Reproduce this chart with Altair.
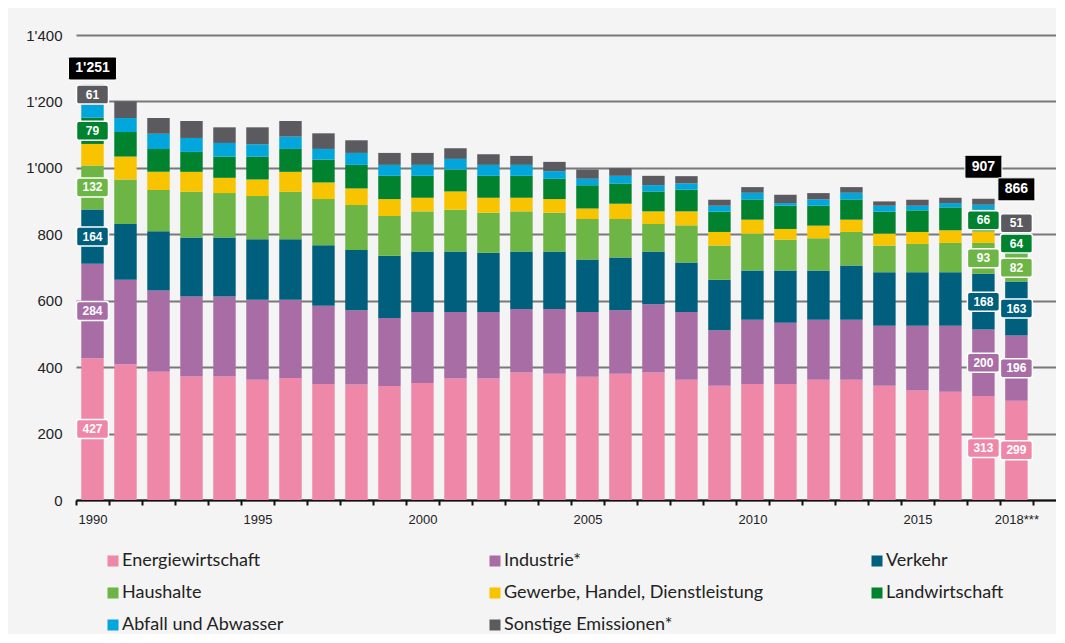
import altair as alt
import pandas as pd

# ---------------- data ----------------
YEARS = [str(y) for y in range(1990, 2019)]

CATEGORIES = [
    "Energiewirtschaft",
    "Industrie*",
    "Verkehr",
    "Haushalte",
    "Gewerbe, Handel, Dienstleistung",
    "Landwirtschaft",
    "Abfall und Abwasser",
    "Sonstige Emissionen*",
]
COLORS = ["#ef87a8", "#a96da6", "#005f7d", "#6db545", "#f8c400", "#00822f", "#00a6dc", "#5b5a5f"]

energie = [427, 409, 386, 372, 372, 362, 367, 349, 348, 343, 352, 366, 366, 384, 380, 371, 380, 384, 362, 344,
           349, 349, 362, 362, 344, 330, 326, 313, 299]
industrie = [284, 254, 245, 241, 241, 241, 236, 236, 223, 205, 214, 200, 200, 191, 195, 195, 191, 205, 204, 167,
             194, 185, 181, 181, 181, 195, 199, 200, 196]
verkehr = [164, 168, 178, 177, 177, 182, 182, 182, 182, 187, 182, 182, 178, 173, 173, 158, 159, 159, 149, 152,
           148, 157, 148, 163, 161, 161, 161, 168, 163]
haushalte = [132, 134, 124, 138, 134, 130, 143, 139, 135, 120, 121, 126, 121, 121, 117, 122, 116, 83, 112, 103,
             111, 93, 97, 101, 80, 85, 88, 93, 82]
gewerbe = [65, 69, 55, 60, 46, 50, 60, 50, 50, 51, 41, 55, 45, 41, 41, 32, 46, 38, 42, 41,
           42, 32, 38, 37, 36, 36, 38, 35, 0]
landwirtschaft = [79, 74, 69, 60, 64, 69, 69, 69, 71, 70, 66, 66, 66, 66, 61, 70, 61, 60, 65, 61,
                  61, 70, 60, 61, 66, 65, 69, 66, 64]
abfall = [39, 42, 46, 42, 41, 37, 37, 32, 36, 33, 33, 32, 33, 33, 23, 19, 23, 19, 19, 18,
          20, 8, 19, 20, 18, 14, 13, 14, 4]
sonstige = [61, 50, 47, 51, 47, 51, 47, 47, 38, 36, 36, 32, 32, 27, 28, 28, 23, 28, 22, 18,
            17, 25, 19, 17, 13, 18, 16, 18, 51]

SERIES = [energie, industrie, verkehr, haushalte, gewerbe, landwirtschaft, abfall, sonstige]

LABELED = {
    "1990": ["Energiewirtschaft", "Industrie*", "Verkehr", "Haushalte", "Landwirtschaft", "Sonstige Emissionen*"],
    "2017": ["Energiewirtschaft", "Industrie*", "Verkehr", "Haushalte", "Landwirtschaft"],
    "2018": ["Energiewirtschaft", "Industrie*", "Verkehr", "Haushalte", "Landwirtschaft", "Sonstige Emissionen*"],
}

TOTAL_YEARS = ["1990", "2017", "2018"]
TOTAL_VALUES = [1251, 907, 866]
TOTAL_TEXT = ["1'251", "907", "866"]

# ---------------- style ----------------
PLOT_W, PLOT_H = 980, 465
Y_MAX = 1400
TOTAL_DY_PX = {"1990": -16, "2017": -32, "2018": -23}
TOTAL_BOX_W = {"1990": 48, "2017": 37, "2018": 37}
TOTAL_BOX_H = 23
SEG_BOX_W, SEG_BOX_H = 32, 19

# legend fills column by column (3 rows), so this order shows the reference's row-wise reading order
LEGEND_ORDER = [CATEGORIES[i] for i in (0, 3, 6, 1, 4, 7, 2, 5)]
LEGEND_COLORS = [COLORS[CATEGORIES.index(c)] for c in LEGEND_ORDER]


def rounded_rect_path(ratio, r=0.12):
    """Rounded rectangle in a [-1,1] x [-ratio, ratio] box."""
    h = ratio
    return (f"M{-1 + r},{-h} H{1 - r} Q1,{-h} 1,{-h + r} V{h - r} Q1,{h} {1 - r},{h} "
            f"H{-1 + r} Q-1,{h} -1,{h - r} V{-h + r} Q-1,{-h} {-1 + r},{-h} Z")


rows = []
for i, (cat, vals) in enumerate(zip(CATEGORIES, SERIES)):
    for year, v in zip(YEARS, vals):
        rows.append({
            "year": year,
            "cat": cat,
            "idx": i,
            "value": v,
            "lab": 1 if cat in LABELED.get(year, []) else 0,
            "txt": str(v),
        })
df = pd.DataFrame(rows)

units_per_px = Y_MAX / PLOT_H
tot = pd.DataFrame({"year": TOTAL_YEARS, "total": TOTAL_VALUES, "txt": TOTAL_TEXT})
tot["ylab"] = [t + (-TOTAL_DY_PX[y]) * units_per_px for y, t in zip(TOTAL_YEARS, TOTAL_VALUES)]
tot["shape"] = [rounded_rect_path((TOTAL_BOX_H / 2) / (TOTAL_BOX_W[y] / 2), 0.06) for y in TOTAL_YEARS]
tot["bsize"] = [TOTAL_BOX_W[y] ** 2 for y in TOTAL_YEARS]

x_scale = alt.Scale(domain=YEARS, paddingInner=0, paddingOuter=0.35, align=0)
y_scale = alt.Scale(domain=[0, Y_MAX], nice=False, zero=True)
color_scale = alt.Scale(domain=LEGEND_ORDER, range=LEGEND_COLORS)

x_axis = alt.Axis(
    title=None, tickBand="extent", grid=False, labelAngle=0, labelOverlap=False,
    domainColor="#111111", domainWidth=2, tickColor="#111111", tickWidth=2, tickSize=5,
    labelExpr="datum.value == '2018' ? '2018***' : (toNumber(datum.value) % 5 == 0 ? datum.value : '')",
    labelFont="Liberation Sans", labelFontSize=13, labelColor="#222222", labelPadding=8,
)
y_axis = alt.Axis(
    title=None, values=list(range(0, Y_MAX + 1, 200)), grid=True, gridColor="#787878", gridWidth=2,
    domain=False, ticks=False,
    labelExpr="replace(format(datum.value, ','), ',', \"'\")",
    labelFont="Liberation Sans", labelFontSize=15, labelColor="#222222", labelPadding=14,
)

bars = alt.Chart(df).mark_bar(width=alt.RelativeBandSize(0.68)).encode(
    x=alt.X("year:N", scale=x_scale, axis=x_axis, sort=YEARS),
    y=alt.Y("value:Q", stack="zero", scale=y_scale, axis=y_axis),
    color=alt.Color(
        "cat:N", scale=color_scale, sort=LEGEND_ORDER,
        legend=alt.Legend(
            orient="none", legendX=28, legendY=517, columns=3, columnPadding=104, rowPadding=14,
            gridAlign="all", symbolType="square", symbolSize=121, symbolStrokeWidth=0,
            labelFont="Lato", labelFontSize=18, labelColor="#222222", labelOffset=0, labelLimit=400,
            title=None,
        ),
    ),
    order=alt.Order("idx:Q", sort="ascending"),
)

seg = alt.Chart(df).transform_stack(
    stack="value", groupby=["year"], sort=[alt.SortField("idx", "ascending")], as_=["v0", "v1"]
).transform_calculate(mid="(datum.v0 + datum.v1) / 2").transform_filter("datum.lab == 1")

seg_boxes = seg.mark_point(
    shape=rounded_rect_path((SEG_BOX_H / 2) / (SEG_BOX_W / 2), 0.15), size=SEG_BOX_W ** 2,
    filled=True, opacity=1, stroke="white", strokeWidth=1.5,
).encode(
    x=alt.X("year:N", scale=x_scale, sort=YEARS),
    y=alt.Y("mid:Q", scale=y_scale),
    fill=alt.Fill("cat:N", scale=color_scale, legend=None),
)
seg_text = seg.mark_text(
    color="white", fontWeight="bold", fontSize=12, font="Liberation Sans", baseline="middle", align="center"
).encode(
    x=alt.X("year:N", scale=x_scale, sort=YEARS),
    y=alt.Y("mid:Q", scale=y_scale),
    text="txt:N",
)

tot_boxes = alt.Chart(tot).mark_point(filled=True, opacity=1, fill="black", stroke="white", strokeWidth=1).encode(
    x=alt.X("year:N", scale=x_scale, sort=YEARS),
    y=alt.Y("ylab:Q", scale=y_scale),
    shape=alt.Shape("shape:N", scale=None),
    size=alt.Size("bsize:Q", scale=None),
)
tot_text = alt.Chart(tot).mark_text(
    color="white", fontWeight="bold", fontSize=14, font="Liberation Sans", baseline="middle", align="center"
).encode(
    x=alt.X("year:N", scale=x_scale, sort=YEARS),
    y=alt.Y("ylab:Q", scale=y_scale),
    text="txt:N",
)

chart = alt.layer(bars, seg_boxes, seg_text, tot_boxes, tot_text).properties(
    width=PLOT_W, height=PLOT_H,
    padding={"left": 68, "top": 27, "right": 0, "bottom": 134},
    autosize=alt.AutoSizeParams(type="none"),
).configure(background="#f4f4f4").configure_view(stroke=None)

chart.save("out.html", embed_options={"renderer": "svg", "actions": False})
